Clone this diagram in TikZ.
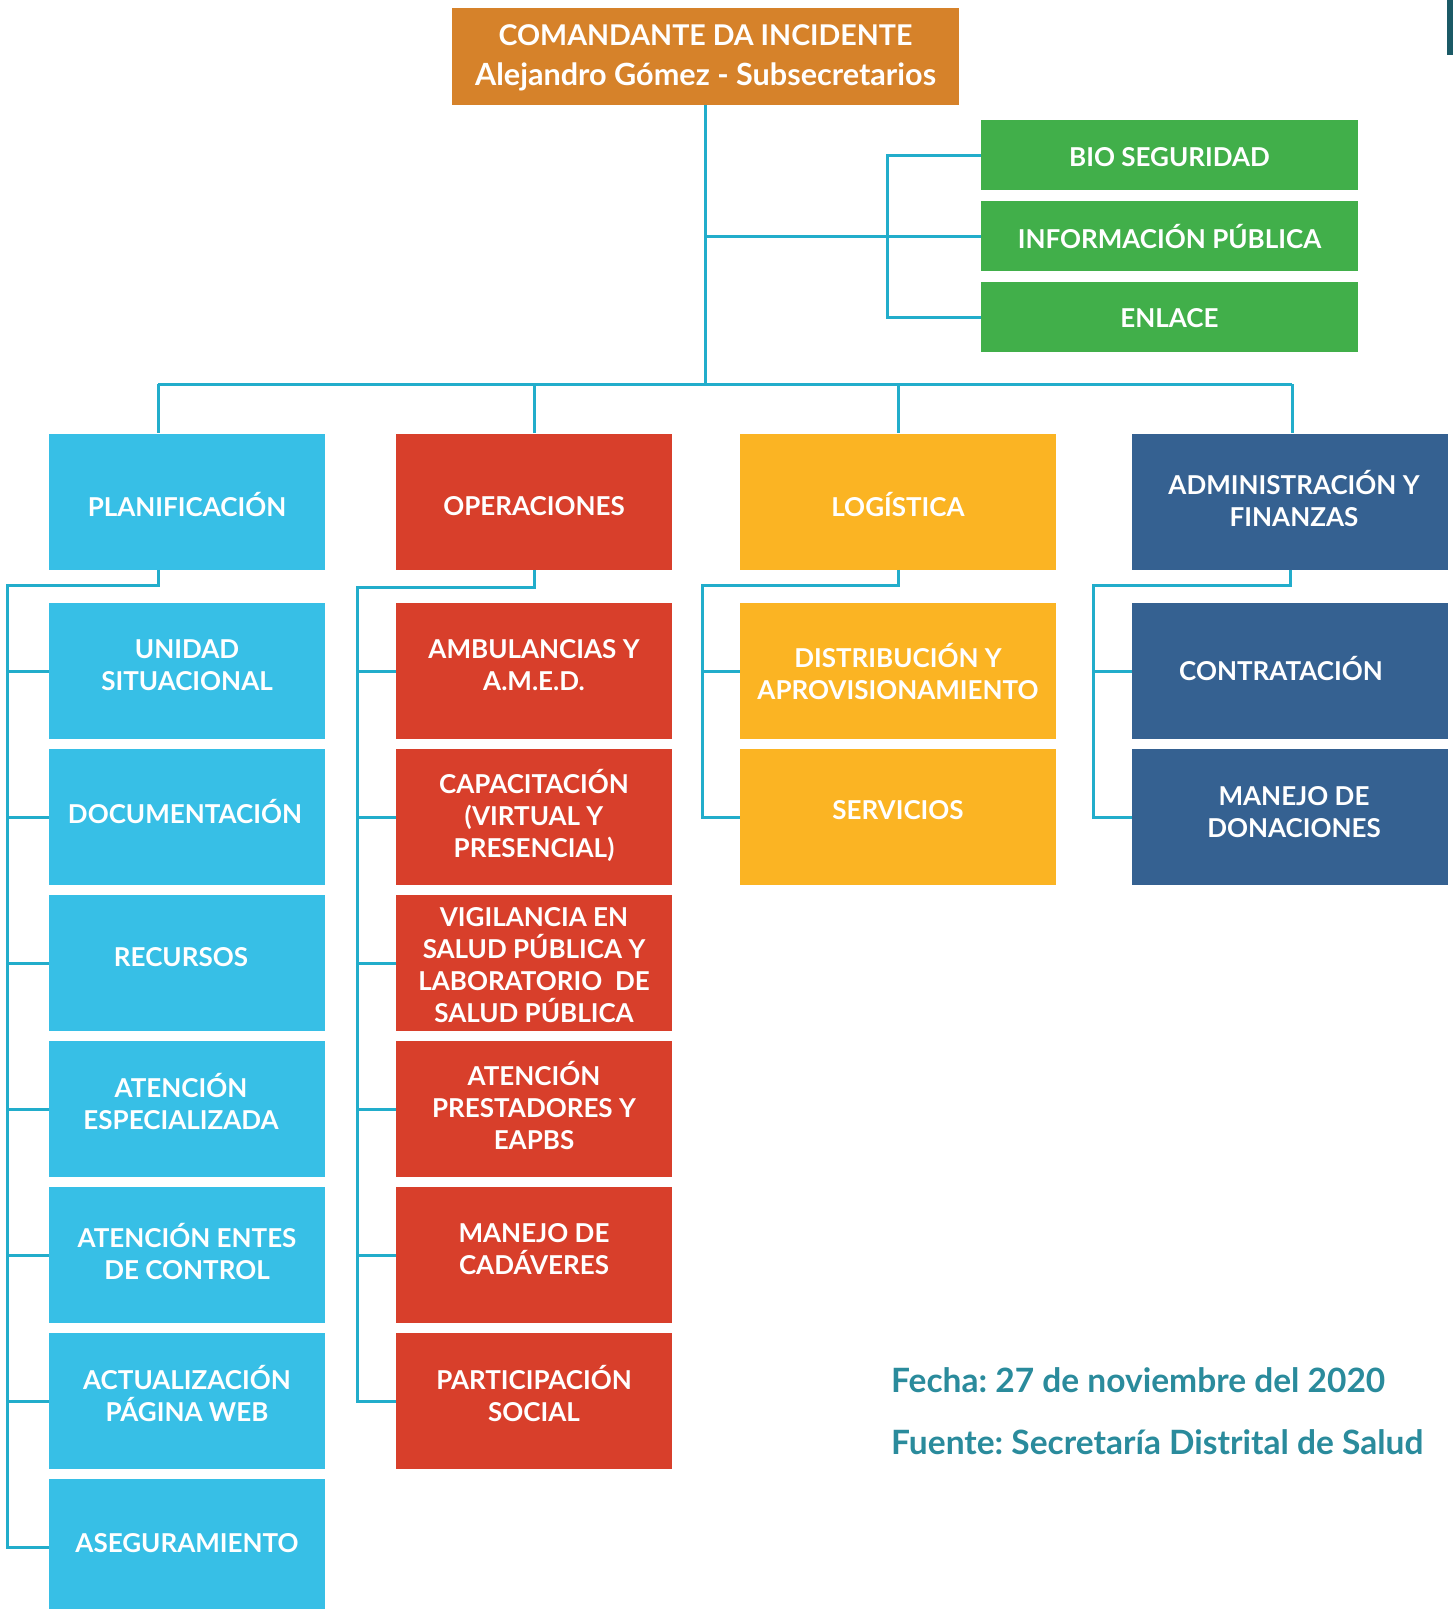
\documentclass[tikz,border=0pt]{standalone}
\usepackage{fontspec}
\setmainfont{Lato}
\frenchspacing
\definecolor{cmdorange}{HTML}{D6822A}
\definecolor{staffgreen}{HTML}{41AF4A}
\definecolor{plancyan}{HTML}{37BFE6}
\definecolor{operred}{HTML}{D83F2B}
\definecolor{logyellow}{HTML}{FBB423}
\definecolor{adminnavy}{HTML}{356191}
\definecolor{linkcyan}{HTML}{22ADCB}
\definecolor{notecol}{HTML}{2A8B9C}
\definecolor{edgebar}{HTML}{1B5A66}
% a filled box (name) and its label (name-t), the label raised by #5
\newcommand\unitbox[6]{%
  \node[#2] (#1) at (#3,#4) {};
  \node[boxtext] (#1-t) at ([yshift=#5]#1.center) {#6};}
\begin{document}
\begin{tikzpicture}[x=1pt,y=-1pt,
  box/.style={rectangle,inner sep=0pt},
  boxtext/.style={inner sep=0pt,align=center,text=white,
    font=\bfseries\fontsize{26}{32}\selectfont},
  cmdbox/.style={box,fill=cmdorange,minimum width=507pt,minimum height=97pt},
  cmdtext/.style={inner sep=0pt,align=center,text=white,
    font=\bfseries\fontsize{30}{40}\selectfont},
  staffbox/.style={box,fill=staffgreen,minimum width=377pt,minimum height=70pt},
  planbox/.style={box,fill=plancyan,minimum width=276pt,minimum height=136pt},
  operbox/.style={box,fill=operred,minimum width=276pt,minimum height=136pt},
  logbox/.style={box,fill=logyellow,minimum width=316pt,minimum height=136pt},
  adminbox/.style={box,fill=adminnavy,minimum width=316pt,minimum height=136pt},
  link/.style={draw=linkcyan,line width=3pt},
  note/.style={anchor=base west,inner sep=0pt,text=notecol,
    font=\bfseries\fontsize{33.5}{38}\selectfont}]
\clip (0,0) rectangle (1453,1609);
\fill[white] (0,0) rectangle (1453,1609);
\fill[edgebar] (1447,0) rectangle (1453,55);

% incident commander and command staff
\node[cmdbox] (cmd) at (705.5,56) {};
\node[cmdtext] (cmd-t) at ([yshift=-2pt]cmd.center)
  {{\fontsize{28.6}{40}\selectfont COMANDANTE DA INCIDENTE}\\{\fontsize{30.6}{40}\selectfont Alejandro Gómez - Subsecretarios}};
\unitbox{bio}{staffbox}{1169.5}{155}{-2pt}{BIO SEGURIDAD}
\unitbox{info}{staffbox}{1169.5}{236}{-1pt}{INFORMACIÓN PÚBLICA}
\unitbox{enl}{staffbox}{1169.5}{317}{-1pt}{ENLACE}

% general staff sections
\unitbox{plan}{planbox}{187}{501.5}{-3pt}{PLANIFICACIÓN}
\unitbox{oper}{operbox}{534}{501.5}{-5pt}{OPERACIONES}
\unitbox{log}{logbox}{898}{501.5}{-3pt}{LOGÍSTICA}
\unitbox{adm}{adminbox}{1290}{501.5}{3pt}{\hspace*{8pt}ADMINISTRACIÓN Y\\\hspace*{8pt}FINANZAS}

% planning units
\unitbox{p1}{planbox}{187}{671}{6pt}{UNIDAD\\SITUACIONAL}
\unitbox{p2}{planbox}{187}{817}{6pt}{\hspace*{-4pt}DOCUMENTACIÓN}
\unitbox{p3}{planbox}{187}{963}{6pt}{\hspace*{-12pt}RECURSOS}
\unitbox{p4}{planbox}{187}{1109}{8pt}{\hspace*{-12pt}ATENCIÓN\\\hspace*{-12pt}ESPECIALIZADA}
\unitbox{p5}{planbox}{187}{1255}{4pt}{ATENCIÓN ENTES\\DE CONTROL}
\unitbox{p6}{planbox}{187}{1401}{8pt}{ACTUALIZACIÓN\\PÁGINA WEB}
\unitbox{p7}{planbox}{187}{1547}{4pt}{ASEGURAMIENTO}

% operations units
\unitbox{o1}{operbox}{534}{671}{6pt}{AMBULANCIAS Y\\A.M.E.D.}
\unitbox{o2}{operbox}{534}{817}{2pt}{CAPACITACIÓN\\(VIRTUAL Y\\PRESENCIAL)}
\unitbox{o3}{operbox}{534}{963}{-2pt}{VIGILANCIA EN\\SALUD PÚBLICA Y\\LABORATORIO\ \ DE\\SALUD PÚBLICA}
\unitbox{o4}{operbox}{534}{1109}{4pt}{ATENCIÓN\\PRESTADORES Y\\EAPBS}
\unitbox{o5}{operbox}{534}{1255}{6pt}{MANEJO DE\\CADÁVERES}
\unitbox{o6}{operbox}{534}{1401}{8pt}{PARTICIPACIÓN\\SOCIAL}

% logistics units
\unitbox{l1}{logbox}{898}{671}{0pt}{DISTRIBUCIÓN Y\\APROVISIONAMIENTO}
\unitbox{l2}{logbox}{898}{817}{7pt}{SERVICIOS}

% administration units
\unitbox{a1}{adminbox}{1290}{671}{3pt}{\hspace*{-18pt}CONTRATACIÓN}
\unitbox{a2}{adminbox}{1290}{817}{5pt}{\hspace*{8pt}MANEJO DE\\\hspace*{8pt}DONACIONES}

% routing points
\coordinate (bus) at (0,384);
\coordinate (brk) at (887,0);
\coordinate (pdrop) at (158,384);
\coordinate (adrop) at (1292,384);
\coordinate (prail) at (7,585);
\coordinate (orail) at (357,587);
\coordinate (lrail) at (702,585);
\coordinate (arail) at (1093,585);

% commander trunk and staff bracket
\draw[link] (cmd.south) -- (cmd.south |- bus);
\draw[link] (cmd.south |- info.west) -- (info.west);
\draw[link] (bio.west) -- (bio.west -| brk) -- (enl.west -| brk) -- (enl.west);

% bus to the four sections
\draw[link] (pdrop) -- (adrop);
\draw[link] (pdrop) -- (pdrop |- plan.north);
\draw[link] (oper.north |- bus) -- (oper.north);
\draw[link] (log.north |- bus) -- (log.north);
\draw[link] (adrop) -- (adrop |- adm.north);

% planning rail
\draw[link] (plan.south -| pdrop) -- (pdrop |- prail) -- (prail) -- (prail |- p7.west) -- (p7.west);
\foreach \n in {p1,p2,p3,p4,p5,p6} \draw[link] (prail |- \n.west) -- (\n.west);

% operations rail
\draw[link] (oper.south) -- (oper.south |- orail) -- (orail) -- (orail |- o6.west) -- (o6.west);
\foreach \n in {o1,o2,o3,o4,o5} \draw[link] (orail |- \n.west) -- (\n.west);

% logistics rail
\draw[link] (log.south) -- (log.south |- lrail) -- (lrail) -- (lrail |- l2.west) -- (l2.west);
\draw[link] (lrail |- l1.west) -- (l1.west);

% administration rail
\draw[link] (adm.south) -- (adm.south |- arail) -- (arail) -- (arail |- a2.west) -- (a2.west);
\draw[link] (arail |- a1.west) -- (a1.west);

% date and source
\node[note] (fecha) at (891,1392) {Fecha: 27 de noviembre del 2020};
\node[note] (fuente) at (891,1454) {Fuente: Secretaría Distrital de Salud};
\end{tikzpicture}
\end{document}
